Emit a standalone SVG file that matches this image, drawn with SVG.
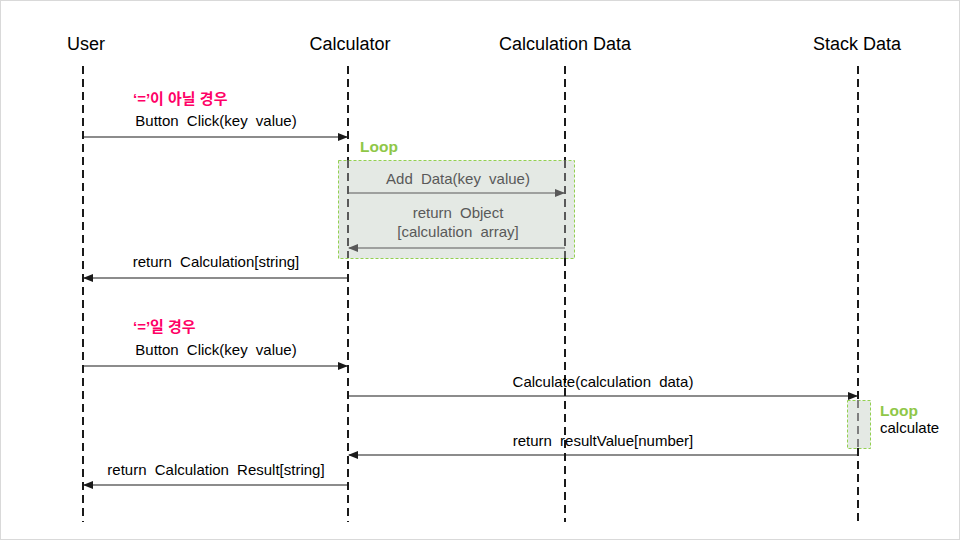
<svg xmlns="http://www.w3.org/2000/svg" width="961" height="541" viewBox="0 0 961 541">
<style>
.t{font-family:"Liberation Sans",Arial,"Noto Sans CJK KR",sans-serif;font-size:15px;fill:#000;text-anchor:middle;word-spacing:4px}
.h{font-size:18px;fill:#000;word-spacing:0}
.k{fill:#ff0066;font-weight:bold;font-size:15px;text-anchor:start;word-spacing:0}
.g{fill:#595959}
.loop{fill:#8fc747;font-weight:bold;font-size:15.5px;text-anchor:start}
.life{stroke:#1a1a1a;stroke-width:2;stroke-dasharray:8,5;fill:none}
.msg{stroke:#1a1a1a;stroke-width:1.2;fill:none}
.msgg{stroke:#595959;stroke-width:1.2;fill:none}
.box{fill:#e4e9e4;stroke:#92d050;stroke-width:1;stroke-dasharray:3,2}
</style>
<defs>
<marker id="a" markerWidth="10" markerHeight="8" refX="9" refY="4" orient="auto" markerUnits="userSpaceOnUse"><path d="M0,0 L10,4 L0,8 Z" fill="#1a1a1a"/></marker>
<marker id="ag" markerWidth="10" markerHeight="8" refX="9" refY="4" orient="auto" markerUnits="userSpaceOnUse"><path d="M0,0 L10,4 L0,8 Z" fill="#595959"/></marker>
</defs>
<rect x="0" y="0" width="961" height="541" fill="#fff"/>
<rect x="0.5" y="0.5" width="959" height="539" fill="none" stroke="#d9d9d9" stroke-width="1"/>
<g id="user"><text class="t h" x="86" y="50">User</text><line class="life" x1="83" y1="66" x2="83" y2="522"/></g>
<g id="calculator"><text class="t h" x="350" y="50">Calculator</text><line class="life" x1="348" y1="66" x2="348" y2="522"/></g>
<g id="calcdata"><text class="t h" x="565" y="50">Calculation Data</text><line class="life" x1="565" y1="66" x2="565" y2="160"/></g>
<g id="stackdata"><text class="t h" x="857" y="50">Stack Data</text><line class="life" x1="858" y1="66" x2="858" y2="400"/></g>
<g id="loop1">
<rect class="box" x="338.5" y="160.5" width="236" height="98"/>
<text class="t loop" x="360" y="152">Loop</text>
</g>
<g id="loop2">
<rect class="box" x="847.5" y="400.5" width="23" height="48"/>
<text class="t loop" x="880" y="416">Loop</text>
<text class="t" x="880" y="433" style="text-anchor:start">calculate</text>
</g>
<g id="lifelines-over">
<line class="life" x1="348" y1="160" x2="348" y2="258" style="stroke:#595959"/>
<line class="life" x1="565" y1="160" x2="565" y2="258" style="stroke:#595959"/>
<line class="life" x1="565" y1="258" x2="565" y2="522"/>
<line class="life" x1="858" y1="400" x2="858" y2="448" style="stroke:#7f7f7f"/>
<line class="life" x1="858" y1="448" x2="858" y2="522"/>
</g>
<g id="connectors">
<line class="msg" x1="83" y1="137" x2="347" y2="137" marker-end="url(#a)"/>
<line class="msgg" x1="348" y1="193" x2="564" y2="193" marker-end="url(#ag)"/>
<line class="msgg" x1="565" y1="248" x2="349" y2="248" marker-end="url(#ag)"/>
<line class="msg" x1="348" y1="278" x2="84" y2="278" marker-end="url(#a)"/>
<line class="msg" x1="83" y1="366" x2="347" y2="366" marker-end="url(#a)"/>
<line class="msg" x1="348" y1="396" x2="857" y2="396" marker-end="url(#a)"/>
<line class="msg" x1="858" y1="455" x2="349" y2="455" marker-end="url(#a)"/>
<line class="msg" x1="348" y1="485" x2="84" y2="485" marker-end="url(#a)"/>
</g>
<g id="labels">
<text class="t k" x="133" y="104">‘=’이 아닐 경우</text>
<text class="t" x="216" y="126">Button Click(key value)</text>
<text class="t g" x="458" y="184">Add Data(key value)</text>
<text class="t g" x="458" y="218">return Object</text>
<text class="t g" x="458" y="237">[calculation array]</text>
<text class="t" x="216" y="267">return Calculation[string]</text>
<text class="t k" x="133" y="332">‘=’일 경우</text>
<text class="t" x="216" y="355">Button Click(key value)</text>
<text class="t" x="603" y="387">Calculate(calculation data)</text>
<text class="t" x="603" y="446">return resultValue[number]</text>
<text class="t" x="216" y="475">return Calculation Result[string]</text>
</g>
</svg>
